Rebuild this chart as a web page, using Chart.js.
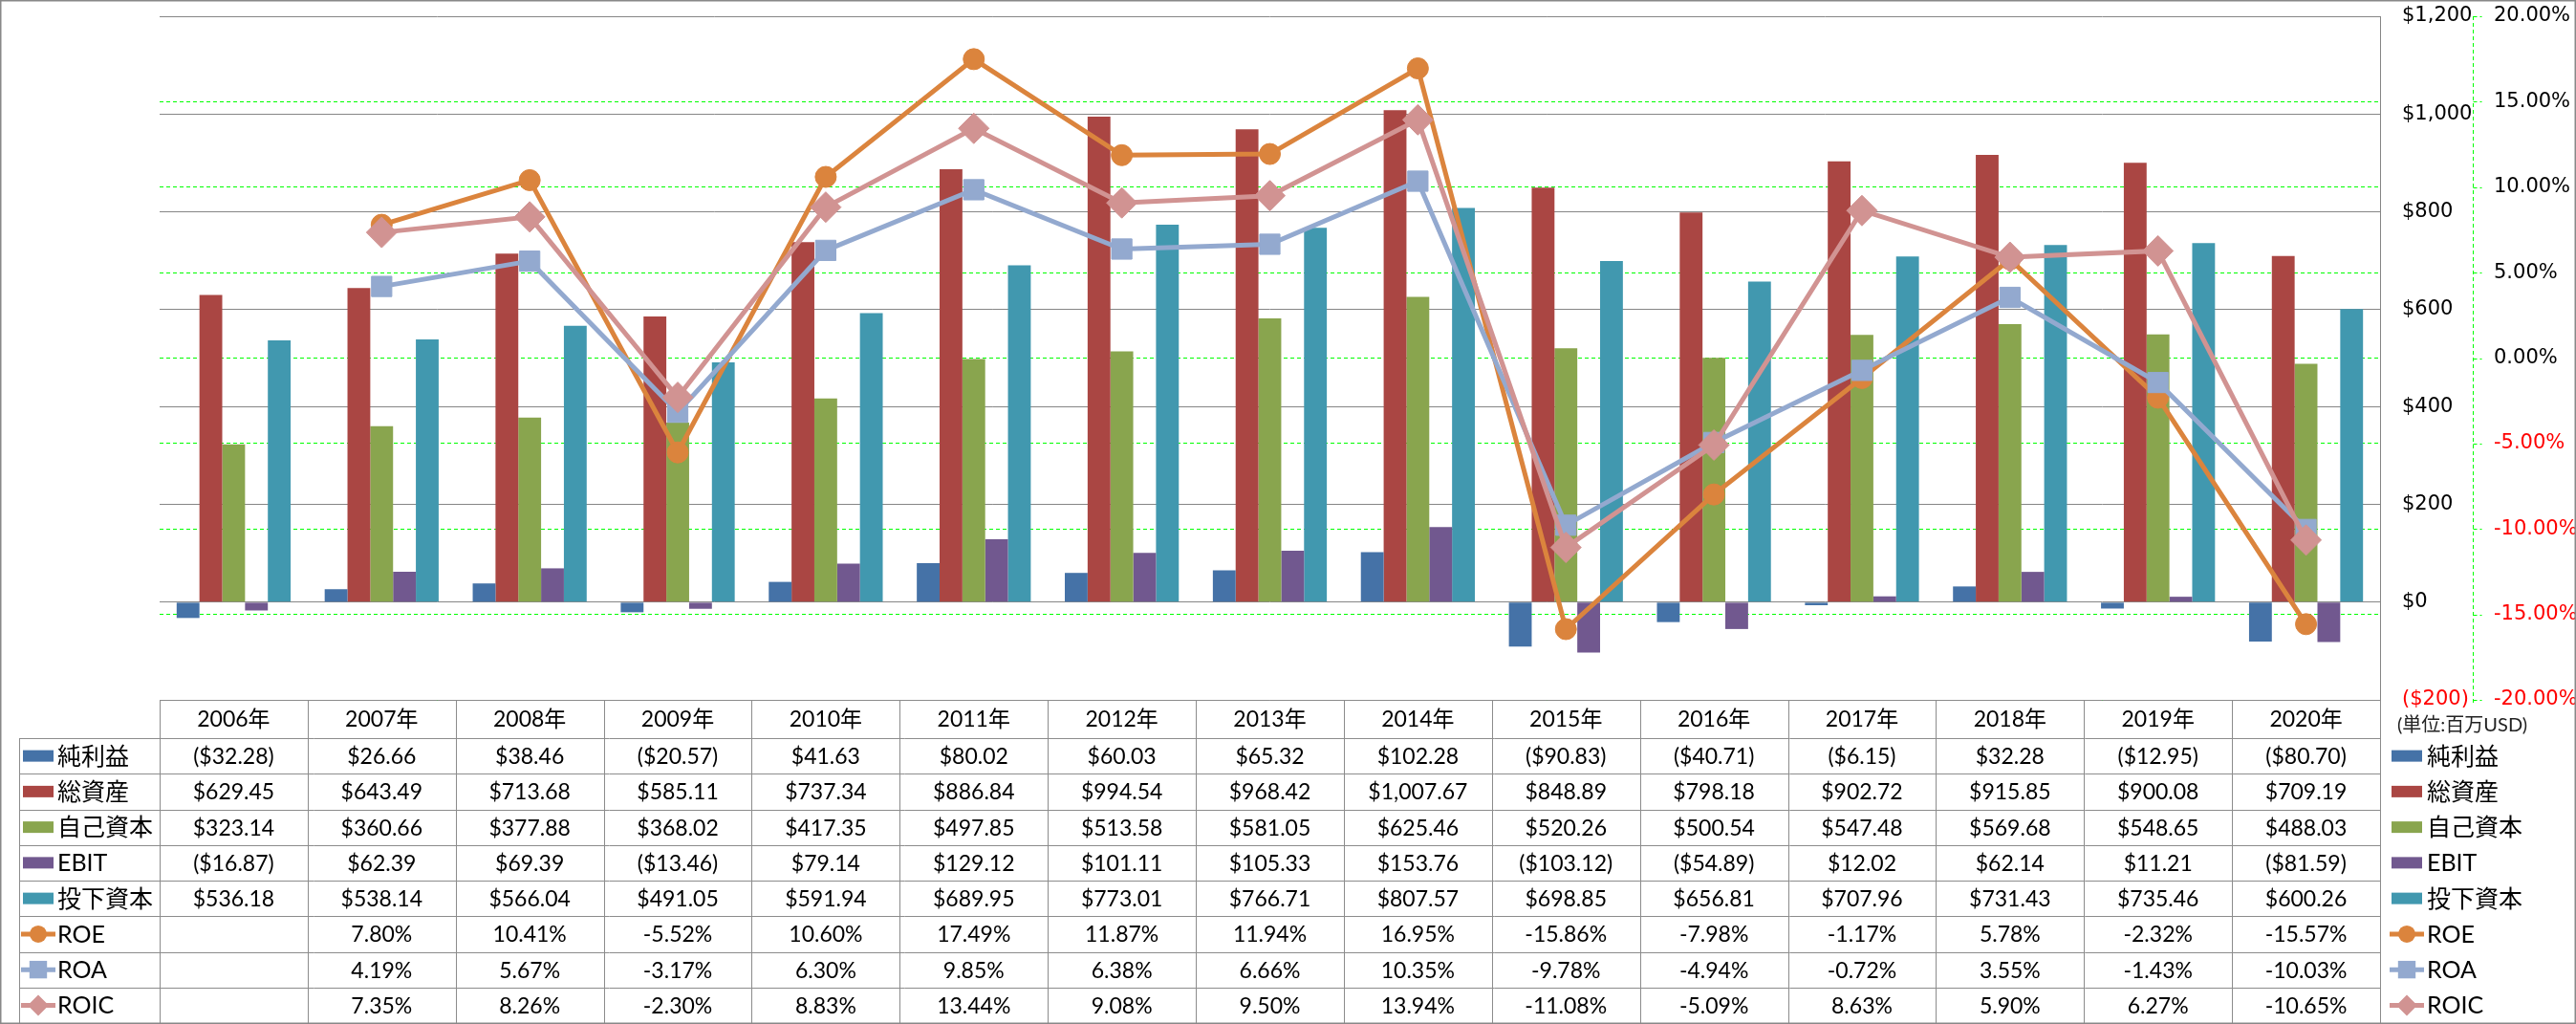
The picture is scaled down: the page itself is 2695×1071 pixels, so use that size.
<!DOCTYPE html>
<html>
<head>
<meta charset="utf-8">
<script src="https://cdn.jsdelivr.net/npm/chart.js@4.4.0/dist/chart.umd.min.js"></script>
<style>
  html, body { margin: 0; padding: 0; background: #fff; }
  canvas { display: block; }
</style>
</head>
<body>
<canvas id="myChart" width="2695" height="1071"></canvas>
<script>
const years = ['2006年', '2007年', '2008年', '2009年', '2010年', '2011年', '2012年', '2013年', '2014年', '2015年', '2016年', '2017年', '2018年', '2019年', '2020年'];

// 単位: 百万USD
const netIncome = [-32.28, 26.66, 38.46, -20.57, 41.63, 80.02, 60.03, 65.32, 102.28, -90.83, -40.71, -6.15, 32.28, -12.95, -80.70];
const totalAssets = [629.45, 643.49, 713.68, 585.11, 737.34, 886.84, 994.54, 968.42, 1007.67, 848.89, 798.18, 902.72, 915.85, 900.08, 709.19];
const equity = [323.14, 360.66, 377.88, 368.02, 417.35, 497.85, 513.58, 581.05, 625.46, 520.26, 500.54, 547.48, 569.68, 548.65, 488.03];
const ebit = [-16.87, 62.39, 69.39, -13.46, 79.14, 129.12, 101.11, 105.33, 153.76, -103.12, -54.89, 12.02, 62.14, 11.21, -81.59];
const investedCapital = [536.18, 538.14, 566.04, 491.05, 591.94, 689.95, 773.01, 766.71, 807.57, 698.85, 656.81, 707.96, 731.43, 735.46, 600.26];

// %
const roe = [null, 7.80, 10.41, -5.52, 10.60, 17.49, 11.87, 11.94, 16.95, -15.86, -7.98, -1.17, 5.78, -2.32, -15.57];
const roa = [null, 4.19, 5.67, -3.17, 6.30, 9.85, 6.38, 6.66, 10.35, -9.78, -4.94, -0.72, 3.55, -1.43, -10.03];
const roic = [null, 7.35, 8.26, -2.30, 8.83, 13.44, 9.08, 9.50, 13.94, -11.08, -5.09, 8.63, 5.90, 6.27, -10.65];

// axis ticks
const moneyTicks = { min: -200, max: 1200, step: 200 };
const pctTicks = { min: -20, max: 20, step: 5 };

const unitNote = '(単位:百万USD)';

const colors = {
  netIncome: '#4572A7',
  totalAssets: '#AA4643',
  equity: '#89A54E',
  ebit: '#71588F',
  investedCapital: '#4198AF',
  roe: '#DB843D',
  roa: '#93A9CF',
  roic: '#D19392'
};

const money = v => {
  const s = '$' + Math.abs(v).toLocaleString('en-US', { minimumFractionDigits: 2, maximumFractionDigits: 2 });
  return v < 0 ? '(' + s + ')' : s;
};
const pct = v => (v === null ? '' : v.toFixed(2) + '%');

const rows = [
  { label: '純利益', data: netIncome, color: colors.netIncome, kind: 'bar', fmt: money },
  { label: '総資産', data: totalAssets, color: colors.totalAssets, kind: 'bar', fmt: money },
  { label: '自己資本', data: equity, color: colors.equity, kind: 'bar', fmt: money },
  { label: 'EBIT', data: ebit, color: colors.ebit, kind: 'bar', fmt: money },
  { label: '投下資本', data: investedCapital, color: colors.investedCapital, kind: 'bar', fmt: money },
  { label: 'ROE', data: roe, color: colors.roe, kind: 'circle', fmt: pct },
  { label: 'ROA', data: roa, color: colors.roa, kind: 'rect', fmt: pct },
  { label: 'ROIC', data: roic, color: colors.roic, kind: 'rectRot', fmt: pct }
];

function drawMarker(ctx, kind, x, y, r) {
  ctx.beginPath();
  if (kind === 'circle') {
    ctx.arc(x, y, r, 0, Math.PI * 2);
  } else if (kind === 'rect') {
    const s = r * Math.SQRT1_2;
    ctx.rect(x - s, y - s, 2 * s, 2 * s);
  } else {
    ctx.moveTo(x - r, y);
    ctx.lineTo(x, y - r);
    ctx.lineTo(x + r, y);
    ctx.lineTo(x, y + r);
    ctx.closePath();
  }
  ctx.fill();
}

function drawKey(ctx, row, cx, cy) {
  ctx.fillStyle = row.color;
  ctx.strokeStyle = row.color;
  if (row.kind === 'bar') {
    ctx.fillRect(cx - 16, cy - 6, 32, 12);
    return;
  }
  ctx.lineWidth = 5;
  ctx.beginPath();
  ctx.moveTo(cx - 18, cy);
  ctx.lineTo(cx + 18, cy);
  ctx.stroke();
  const r = row.kind === 'circle' ? 9 : row.kind === 'rect' ? 13 : 11;
  drawMarker(ctx, row.kind, cx, cy, r);
}

const tableFont = 'Lato, "Noto Sans CJK JP", sans-serif';

// dashed percent axis line with its short tick marks
const pctAxisLine = {
  id: 'pctAxisLine',
  afterDraw(chart) {
    const { ctx, chartArea } = chart;
    const s = chart.scales.y1;
    const x = Math.round(s.left) + 0.5;
    ctx.save();
    ctx.strokeStyle = '#00FF00';
    ctx.lineWidth = 1;
    ctx.setLineDash([4, 3]);
    ctx.beginPath();
    ctx.moveTo(x, chartArea.top);
    ctx.lineTo(x, chartArea.bottom + 6);
    s.ticks.forEach(t => {
      const y = Math.round(s.getPixelForValue(t.value)) + 0.5;
      ctx.moveTo(x, y);
      ctx.lineTo(x + 9, y);
    });
    ctx.stroke();
    ctx.restore();
  }
};

const dataTable = {
  id: 'dataTable',
  afterDraw(chart) {
    const { ctx, chartArea, scales: { x } } = chart;
    const W = chart.width, H = chart.height;
    const top = chartArea.bottom;
    const headH = 40;
    const bottom = H - 1;
    const rowH = (bottom - top - headH) / rows.length;
    const labelLeft = 20;
    const n = years.length;
    const centers = years.map((_, i) => x.getPixelForValue(i));
    const edges = [chartArea.left];
    for (let i = 1; i < n; i++) edges.push((centers[i - 1] + centers[i]) / 2);
    edges.push(chartArea.right);
    const px = v => Math.round(v) + 0.5;

    ctx.save();
    ctx.strokeStyle = '#8c8c8c';
    ctx.lineWidth = 1;
    ctx.setLineDash([]);
    ctx.beginPath();
    ctx.moveTo(chartArea.left, px(top));
    ctx.lineTo(chartArea.right, px(top));
    for (let r = 0; r <= rows.length; r++) {
      const y = px(top + headH + r * rowH);
      ctx.moveTo(labelLeft, y);
      ctx.lineTo(chartArea.right, y);
    }
    edges.forEach(e => {
      ctx.moveTo(px(e), px(top));
      ctx.lineTo(px(e), px(bottom));
    });
    ctx.moveTo(px(labelLeft), px(top + headH));
    ctx.lineTo(px(labelLeft), px(bottom));
    ctx.stroke();

    ctx.fillStyle = '#000';
    ctx.textBaseline = 'middle';
    ctx.textAlign = 'center';
    ctx.font = '23px ' + tableFont;
    years.forEach((y, i) => ctx.fillText(y, centers[i], top + headH / 2 + 1));

    rows.forEach((row, r) => {
      const cy = top + headH + (r + 0.5) * rowH;
      ctx.fillStyle = '#000';
      ctx.textAlign = 'center';
      ctx.font = '23px ' + tableFont;
      row.data.forEach((v, i) => ctx.fillText(row.fmt(v), centers[i], cy + 1));

      // left legend cell
      drawKey(ctx, row, 40, cy);
      ctx.fillStyle = '#000';
      ctx.textAlign = 'left';
      ctx.font = '25px ' + tableFont;
      ctx.fillText(row.label, 60, cy + 1);

      // right legend
      drawKey(ctx, row, 2518, cy);
      ctx.fillStyle = '#000';
      ctx.fillText(row.label, 2539, cy + 1);
    });

    ctx.fillStyle = '#222';
    ctx.textAlign = 'left';
    ctx.font = '20px ' + tableFont;
    ctx.fillText(unitNote, 2508, top + 27);

    ctx.strokeStyle = '#888';
    ctx.lineWidth = 1.5;
    ctx.strokeRect(0.75, 0.75, W - 1.5, H - 1.5);
    ctx.restore();
  }
};

const axisFont = { family: '"DejaVu Sans", sans-serif', size: 21 };
const negRed = c => (c.tick && c.tick.value < 0 ? '#FF0000' : '#000000');

const barSet = (label, data, color) => ({
  type: 'bar', label, data, backgroundColor: color, borderWidth: 0,
  yAxisID: 'y', order: 4, categoryPercentage: 0.77, barPercentage: 1.0
});
const lineSet = (label, data, color, style, radius, order) => ({
  type: 'line', label, data, borderColor: color, backgroundColor: color,
  borderWidth: 5, pointStyle: style, pointRadius: radius, pointHoverRadius: radius,
  pointBackgroundColor: color, pointBorderColor: color, pointBorderWidth: 1,
  tension: 0, fill: false, spanGaps: false, yAxisID: 'y1', order
});

new Chart(document.getElementById('myChart'), {
  data: {
    labels: years,
    datasets: [
      barSet('純利益', netIncome, colors.netIncome),
      barSet('総資産', totalAssets, colors.totalAssets),
      barSet('自己資本', equity, colors.equity),
      barSet('EBIT', ebit, colors.ebit),
      barSet('投下資本', investedCapital, colors.investedCapital),
      lineSet('ROE', roe, colors.roe, 'circle', 11, 3),
      lineSet('ROA', roa, colors.roa, 'rect', 15, 2),
      lineSet('ROIC', roic, colors.roic, 'rectRot', 16, 1)
    ]
  },
  options: {
    responsive: false,
    animation: false,
    layout: { padding: { left: 167, top: 15, right: 0, bottom: 339 } },
    plugins: { legend: { display: false }, tooltip: { enabled: false } },
    scales: {
      x: { type: 'category', display: false, offset: true },
      y: {
        position: 'right', weight: 1,
        min: moneyTicks.min, max: moneyTicks.max,
        ticks: {
          stepSize: moneyTicks.step, padding: 2, font: axisFont, color: negRed,
          callback: v => (v < 0 ? '($' + Math.abs(v) + ')' : '$' + v.toLocaleString('en-US'))
        },
        grid: { color: '#868686', lineWidth: 1, drawTicks: true, tickLength: 21, tickColor: 'rgba(0,0,0,0)' },
        border: { display: true, color: '#868686', width: 1 },
        afterFit: s => { s.width = 97; }
      },
      y1: {
        position: 'right', weight: 2,
        min: pctTicks.min, max: pctTicks.max,
        ticks: {
          stepSize: pctTicks.step, padding: 2, font: axisFont, color: negRed,
          callback: v => v.toFixed(2) + '%'
        },
        grid: {
          color: c => (c.tick && c.tick.value === pctTicks.max ? 'rgba(0,0,0,0)' : '#00FF00'),
          lineWidth: 1, drawOnChartArea: true,
          drawTicks: true, tickLength: 20, tickColor: 'rgba(0,0,0,0)'
        },
        border: { display: false, dash: [4, 3] },
        afterFit: s => { s.width = 108; }
      }
    }
  },
  plugins: [pctAxisLine, dataTable]
});
</script>
</body>
</html>
